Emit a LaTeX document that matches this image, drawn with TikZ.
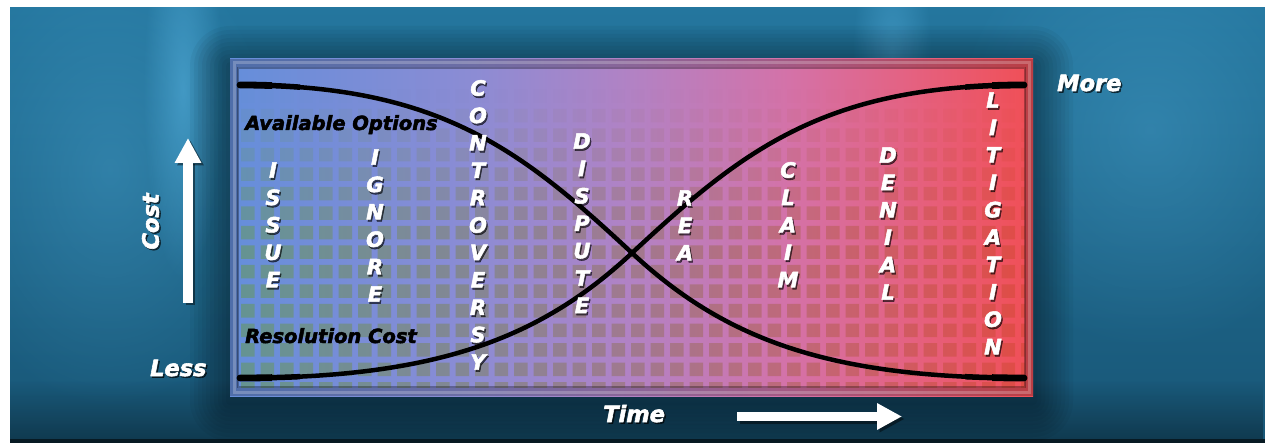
\documentclass[tikz,border=0pt]{standalone}
\usepackage{fontspec}
\setmainfont{DejaVu Sans}[BoldItalicFeatures={FakeBold=2.5}]
\usetikzlibrary{arrows.meta,fadings}

\definecolor{bgA}{RGB}{36,118,158}
\definecolor{bgB}{RGB}{24,86,118}
\definecolor{bgLight}{RGB}{80,170,215}
\definecolor{pA}{RGB}{102,142,218}
\definecolor{pB}{RGB}{140,140,212}
\definecolor{pC}{RGB}{178,130,196}
\definecolor{pD}{RGB}{212,114,168}
\definecolor{pE}{RGB}{228,98,130}
\definecolor{pF}{RGB}{240,80,88}
\definecolor{gA}{RGB}{100,155,60}
\definecolor{gB}{RGB}{142,110,80}
\definecolor{gC}{RGB}{207,69,45}

\pgfdeclarehorizontalshading{panelshade}{100bp}{color(0bp)=(pA); color(25bp)=(pA); color(40bp)=(pB); color(50bp)=(pC); color(60bp)=(pD); color(67.5bp)=(pE); color(75bp)=(pF); color(100bp)=(pF)}

\tikzfading[name=blob, inner color=transparent!0, outer color=transparent!100]

\newcommand{\vword}[4]{%
  \foreach \lt [count=\i] in {#4} {
    \node[vlet, sh] (#1-s\i) at ({#2+1.3},{#3+27.4*(\i-1)+2}) {\lt};
    \node[vlet] (#1-\i) at ({#2},{#3+27.4*(\i-1)}) {\lt};
  }}

\begin{document}
\begin{tikzpicture}[x=1pt,y=-1pt,
  lab/.style={font=\fontsize{22.5}{26}\selectfont\bfseries\itshape, text=white, inner sep=0pt},
  blk/.style={font=\fontsize{19.5}{23}\selectfont\bfseries\itshape, text=black, inner sep=0pt},
  vlet/.style={font=\fontsize{21}{24}\selectfont\bfseries\itshape, text=white, inner sep=0pt, text height=15.3pt, text depth=0pt},
  sh/.style={text=black, text opacity=0.6},
  curve/.style={line width=4.5pt, black, line cap=round},
  bigarrow/.style={line width=9.5pt, -{Triangle[length=25pt,width=25pt]}},
]
\useasboundingbox (0,0) rectangle (1265,443);
\fill[white] (0,0) rectangle (1265,443);

% background
\shade[top color=bgA, bottom color=bgB] (10,8) rectangle (1265,443);
\begin{scope}
\clip (10,8) rectangle (1265,443);
\fill[bgLight, opacity=0.35, path fading=blob] (110,170) ellipse [x radius=170, y radius=240];
\fill[bgLight, opacity=0.35, path fading=blob] (1150,130) ellipse [x radius=200, y radius=220];
\fill[bgLight, opacity=0.65, path fading=blob] (183,90) ellipse [x radius=40, y radius=190];
\fill[bgLight, opacity=0.55, path fading=blob] (892,60) ellipse [x radius=40, y radius=130];
\fill[black, opacity=0.35, path fading=north] (10,380) rectangle (1265,443);
\end{scope}
\fill[black!70!bgB] (10,439) rectangle (1265,443);

% panel shadow
\foreach \d in {40,36,...,4}{
  \fill[black, opacity=0.04, rounded corners=\d] ({230-\d},{60-\d+6}) rectangle ({1033+\d},{395+\d+6});
}

% panel frame
\shade[shading=panelshade] (230,59) rectangle (1033,396);
\fill[black, opacity=0.22] (230,59) rectangle (1033,396);
\draw[white, opacity=0.22, line width=3pt] (234,63) rectangle (1029,392);
\shade[shading=panelshade] (238,68) rectangle (1025,387);

% grid
\begin{scope}
\clip (238,68) rectangle (1025,387);
\foreach \r in {0,...,16}{
  \pgfmathsetmacro\yy{70+19.5*\r}
  \pgfmathsetmacro\op{0.45*min(1,max(0,(\yy-85)/150))}
  \shade[left color=gA, right color=gC, middle color=gB, opacity=\op]
    \foreach \c in {0,...,40}{ ({241+19.5*\c},\yy) rectangle ++(13.5,13.5) };
}
\end{scope}
\draw[black, opacity=0.3, line width=1.2pt] (238,68) rectangle (1025,387);

% curves
\draw[curve] (240,85) .. controls (440,85) and (522,150.7) .. (632,253) .. controls (722,336.7) and (824,378) .. (1024,378);
\draw[curve] (240,378) .. controls (440,378) and (542,336.7) .. (632,253) .. controls (742,150.7) and (824,85) .. (1024,85);
\begin{scope}
\clip (225,60) rectangle (300,400) (965,60) rectangle (1040,400);
\draw[curve, line width=5.5pt] (240,85) .. controls (440,85) and (522,150.7) .. (632,253) .. controls (722,336.7) and (824,378) .. (1024,378);
\draw[curve, line width=5.5pt] (240,378) .. controls (440,378) and (542,336.7) .. (632,253) .. controls (742,150.7) and (824,85) .. (1024,85);
\end{scope}
\begin{scope}
\clip (225,60) rectangle (272,400) (992,60) rectangle (1040,400);
\draw[curve, line width=6.8pt] (240,85) .. controls (440,85) and (522,150.7) .. (632,253) .. controls (722,336.7) and (824,378) .. (1024,378);
\draw[curve, line width=6.8pt] (240,378) .. controls (440,378) and (542,336.7) .. (632,253) .. controls (742,150.7) and (824,85) .. (1024,85);
\end{scope}

% curve labels
\node[blk, anchor=base west] (avail) at (245,130) {Available Options};
\node[blk, anchor=base west] (resol) at (245,343) {Resolution Cost};

% stage words
\vword{issue}{273}{170}{I,S,S,U,E}
\vword{ignore}{375}{157}{I,G,N,O,R,E}
\vword{contro}{478}{88}{C,O,N,T,R,O,V,E,R,S,Y}
\vword{dispute}{582}{141}{D,I,S,P,U,T,E}
\vword{rea}{685}{198}{R,E,A}
\vword{claim}{788}{170}{C,L,A,I,M}
\vword{denial}{888}{155}{D,E,N,I,A,L}
\vword{litig}{993}{100}{L,I,T,I,G,A,T,I,O,N}

% axis labels
\node[lab, sh, rotate=90] (cost-s) at (152,223) {Cost};
\node[lab, rotate=90] (cost) at (150.5,221.5) {Cost};
\node[lab, sh, anchor=base west] (less-s) at (151.5,377.5) {Less};
\node[lab, anchor=base west] (less) at (150,376) {Less};
\node[lab, sh, anchor=base west] (more-s) at (1058.5,92.5) {More};
\node[lab, anchor=base west] (more) at (1057,91) {More};
\node[lab, sh, anchor=base west] (time-s) at (604.5,423.5) {Time};
\node[lab, anchor=base west] (time) at (603,422) {Time};

% arrows
\coordinate (cA) at (188,303);
\coordinate (cB) at (188,138);
\coordinate (cAs) at (190.5,305.5);
\coordinate (cBs) at (190.5,140.5);
\draw[bigarrow, black, opacity=0.45] (cAs) -- (cBs);
\draw[bigarrow, white] (cA) -- (cB);
\coordinate (tA) at (737,416.5);
\coordinate (tB) at (902,416.5);
\coordinate (tAs) at (739.5,419);
\coordinate (tBs) at (904.5,419);
\draw[bigarrow, black, opacity=0.45] (tAs) -- (tBs);
\draw[bigarrow, white] (tA) -- (tB);
\end{tikzpicture}
\end{document}
